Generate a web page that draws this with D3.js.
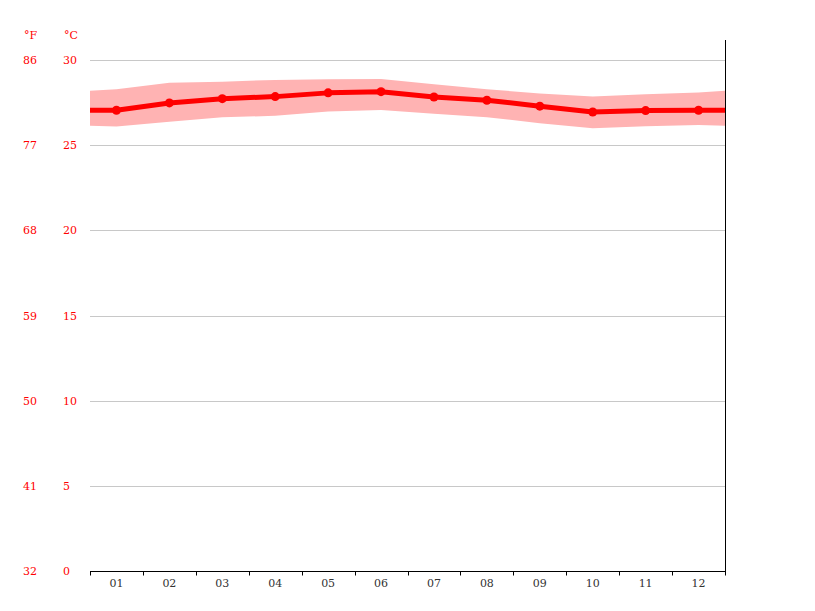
<!DOCTYPE html>
<html>
<head>
<meta charset="utf-8">
<script src="https://cdn.jsdelivr.net/npm/d3@7"></script>
<style>
  body { margin: 0; background: #fff; }
  text { font-family: "DejaVu Serif", serif; font-size: 11px; }
</style>
</head>
<body>
<div id="chart"></div>
<script>
const months = ["01", "02", "03", "04", "05", "06", "07", "08", "09", "10", "11", "12"];
const tempMean = [27.05, 27.48, 27.73, 27.85, 28.07, 28.14, 27.83, 27.64, 27.29, 26.95, 27.03, 27.05];
const tempMax = [28.29, 28.67, 28.73, 28.83, 28.87, 28.89, 28.58, 28.29, 28.03, 27.85, 27.99, 28.09];
const tempMin = [26.09, 26.38, 26.64, 26.72, 26.97, 27.07, 26.84, 26.64, 26.29, 26.0, 26.11, 26.19];
const celsiusTicks = [0, 5, 10, 15, 20, 25, 30];

const width = 815, height = 611;
const plotLeft = 90, plotRight = 725, plotTop = 60, plotBottom = 571;

(() => {
    const svg = d3.select("#chart").append("svg")
        .attr("width", width)
        .attr("height", height);

    const x = d3.scaleBand().domain(months).range([plotLeft, plotRight]).padding(0);
    const y = d3.scaleLinear().domain([0, 30]).range([plotBottom, plotTop]);
    const step = x.bandwidth();

    // gridlines
    svg.append("g")
        .selectAll("line")
        .data(celsiusTicks.filter(d => d > 0))
        .join("line")
            .attr("x1", plotLeft)
            .attr("x2", plotRight)
            .attr("y1", d => Math.round(y(d)) + 0.5)
            .attr("y2", d => Math.round(y(d)) + 0.5)
            .attr("stroke", "#c8c8c8")
            .attr("stroke-width", 1);

    // wrap Dec before Jan and Jan after Dec, then clip to the plot
    const pts = months.map((m, i) => ({ x: x(m) + step / 2, mean: tempMean[i], max: tempMax[i], min: tempMin[i] }));
    const n = months.length;
    const wrapped = [
        { x: x(months[0]) - step / 2, mean: tempMean[n - 1], max: tempMax[n - 1], min: tempMin[n - 1] },
        ...pts,
        { x: x(months[n - 1]) + step * 1.5, mean: tempMean[0], max: tempMax[0], min: tempMin[0] }
    ];

    svg.append("defs").append("clipPath")
        .attr("id", "plot-clip")
        .append("rect")
            .attr("x", plotLeft)
            .attr("y", 0)
            .attr("width", plotRight - plotLeft)
            .attr("height", plotBottom);

    const plot = svg.append("g").attr("clip-path", "url(#plot-clip)");

    plot.append("path")
        .datum(wrapped)
        .attr("fill", "#ffb3b3")
        .attr("d", d3.area().x(d => d.x).y0(d => y(d.min)).y1(d => y(d.max)));

    plot.append("path")
        .datum(wrapped)
        .attr("fill", "none")
        .attr("stroke", "#ff0000")
        .attr("stroke-width", 5)
        .attr("stroke-linejoin", "round")
        .attr("d", d3.line().x(d => d.x).y(d => y(d.mean)));

    plot.append("g")
        .selectAll("circle")
        .data(pts)
        .join("circle")
            .attr("cx", d => d.x)
            .attr("cy", d => y(d.mean))
            .attr("r", 4.5)
            .attr("fill", "#ff0000");

    // x axis
    const xAxis = svg.append("g")
        .attr("transform", `translate(0,${plotBottom + 0.5})`);
    xAxis.append("line")
        .attr("x1", plotLeft).attr("x2", plotRight + 0.5)
        .attr("stroke", "#000");
    xAxis.selectAll(".tick")
        .data(months.map(m => x(m)).concat([plotRight]))
        .join("line")
            .attr("class", "tick")
            .attr("x1", d => Math.round(d) + 0.5)
            .attr("x2", d => Math.round(d) + 0.5)
            .attr("y1", 0)
            .attr("y2", 4)
            .attr("stroke", "#000");
    xAxis.selectAll("text")
        .data(months)
        .join("text")
            .attr("x", d => x(d) + step / 2)
            .attr("y", 15)
            .attr("text-anchor", "middle")
            .attr("fill", "#333")
            .text(d => d);

    // right border
    svg.append("line")
        .attr("x1", plotRight + 0.5).attr("x2", plotRight + 0.5)
        .attr("y1", 40).attr("y2", plotBottom + 1)
        .attr("stroke", "#000");

    // y labels
    const yLabels = svg.append("g").attr("fill", "#ff0000");
    yLabels.selectAll(".c")
        .data(celsiusTicks)
        .join("text")
            .attr("class", "c")
            .attr("x", 63)
            .attr("y", d => y(d) + 4)
            .text(d => d);
    yLabels.selectAll(".f")
        .data(celsiusTicks)
        .join("text")
            .attr("class", "f")
            .attr("x", 23)
            .attr("y", d => y(d) + 4)
            .text(d => Math.round(d * 9 / 5 + 32));
    yLabels.append("text").attr("x", 24).attr("y", 39).text("°F");
    yLabels.append("text").attr("x", 64).attr("y", 39).text("°C");
})();
</script>
</body>
</html>
